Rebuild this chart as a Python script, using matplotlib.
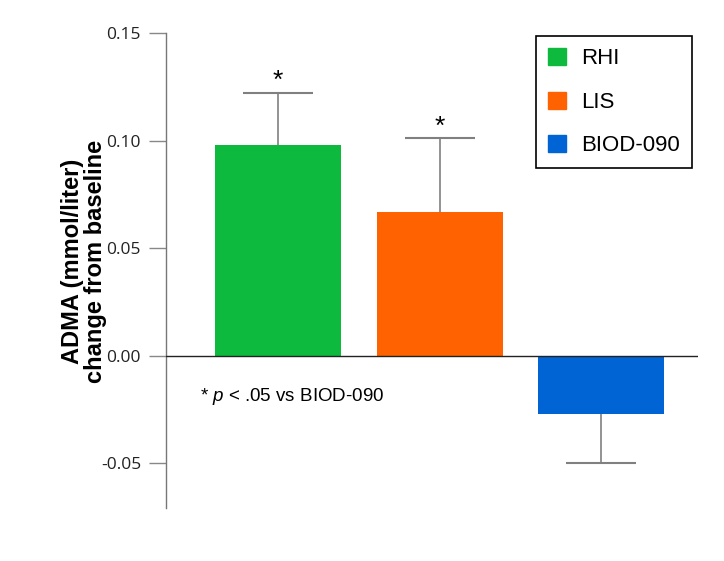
import matplotlib.pyplot as plt

# data
groups = ['RHI', 'LIS', 'BIOD-090']
change = [0.098, 0.067, -0.027]
err = [0.024, 0.034, 0.023]
signif = [True, True, False]
colors = ['#0DBA3D', '#FF6200', '#0064D4']
yticks = [-0.05, 0.00, 0.05, 0.10, 0.15]

plt.rcParams['mathtext.fontset'] = 'custom'
plt.rcParams['mathtext.it'] = 'Liberation Sans:italic'
plt.rcParams['mathtext.rm'] = 'Liberation Sans'

fig = plt.figure(figsize=(7.24, 5.61), dpi=100)
ax = fig.add_axes([0.2293, 0.0945, 0.7348, 0.8467])

x = list(range(len(groups)))
# error bars drawn symmetric and hidden behind the bars
ax.errorbar(x, change, yerr=err, fmt='none', ecolor='#808080',
            elinewidth=1.2, capsize=25, capthick=1.5, zorder=2)
bars = ax.bar(x, change, width=0.78, color=colors, zorder=3)

for xi, v, e, s in zip(x, change, err, signif):
    if s:
        ax.annotate('*', (xi, v + e), xytext=(0, 0), textcoords='offset points',
                    ha='center', va='bottom', fontsize=19, family='Liberation Sans')

ax.axhline(0, color='#222222', lw=1.0, zorder=4)

ax.set_xlim(-0.693, 2.60)
ax.set_ylim(-0.0707, 0.15)
ax.set_yticks(yticks)
ax.set_yticklabels([f'{t:.2f}' for t in yticks], family='Open Sans', fontsize=12.5, color='#222222')
ax.tick_params(axis='y', length=12, width=1, color='#888888', pad=6)
ax.set_xticks([])
for sp in ['top', 'right', 'bottom']:
    ax.spines[sp].set_visible(False)
ax.spines['left'].set_color('#777777')
ax.spines['left'].set_linewidth(1.0)

ax.set_ylabel('ADMA (mmol/liter)\nchange from baseline', family='Liberation Sans',
              fontweight='bold', fontsize=17, linespacing=1.0)
ax.yaxis.set_label_coords(-0.111, 0.52)

ax.text(-0.483, -0.019, r'* $\mathit{p}$ < .05 vs BIOD-090',
        family='Liberation Sans', fontsize=13.5, va='center')

handles = [plt.Rectangle((0, 0), 1, 1, color=c) for c in colors]
leg = ax.legend(handles, groups, loc='upper right', bbox_to_anchor=(0.989, 0.994),
                borderaxespad=0, prop={'family': 'Liberation Sans', 'size': 16},
                handlelength=0.8, handleheight=0.8, handletextpad=0.7,
                labelspacing=1.0, borderpad=0.55, fancybox=False, framealpha=1)
leg.get_frame().set_edgecolor('black')
leg.get_frame().set_linewidth(1.2)

fig.savefig('out.png', dpi=100)
